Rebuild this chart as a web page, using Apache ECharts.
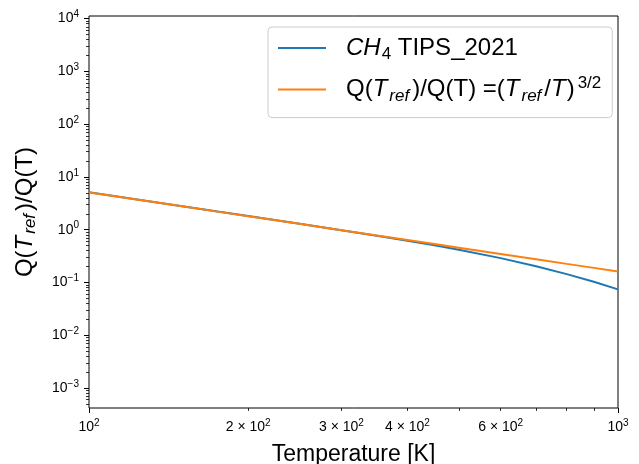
<!DOCTYPE html>
<html>
<head>
<meta charset="utf-8">
<script src="https://cdn.jsdelivr.net/npm/echarts@6/dist/echarts.min.js"></script>
<style>
html, body { margin: 0; padding: 0; background: #fff; }
#chart { width: 639px; height: 464px; }
</style>
</head>
<body>
<div id="chart"></div>
<script>
// temperature grid [K]
var temps = [100, 125, 150, 175, 200, 250, 300, 350, 400, 450, 500, 600, 700, 800, 900, 1000];
// CH4 TIPS_2021 : Q(Tref)/Q(T)
var tipsRatio = [5.12, 3.67, 2.79, 2.21, 1.81, 1.29, 0.976, 0.769, 0.618, 0.505, 0.416, 0.289, 0.203, 0.144, 0.103, 0.074];
// (Tref/T)^(3/2)
var powRatio = [5.09, 3.64, 2.77, 2.20, 1.80, 1.29, 0.980, 0.778, 0.637, 0.534, 0.456, 0.347, 0.275, 0.225, 0.189, 0.161];

// ticks
var xMajor = [100, 1000];
var xMinor = [200, 300, 400, 500, 600, 700, 800, 900];
var xMinorLabels = [200, 300, 400, 600];
var yMajor = [1e-3, 1e-2, 1e-1, 1, 10, 100, 1000, 10000];
var yMinorMant = [2, 3, 4, 5, 6, 7, 8, 9];
var yDecades = [-4, -3, -2, -1, 0, 1, 2, 3];

var yMin = 4.18e-4, yMax = 1.12e4;
var FONT = 'Liberation Sans';

var yMinor = [];
yDecades.forEach(function (d) {
    yMinorMant.forEach(function (m) {
        var v = m * Math.pow(10, d);
        if (v > yMin && v < yMax) yMinor.push(v);
    });
});

var seriesNames = ['CH4 TIPS_2021', 'Q(Tref)/Q(T) =(Tref/T)^3/2'];
var legendRich = {};
legendRich[seriesNames[0]] = '{gap| }{i|CH}{sb|4} TIPS_2021';
legendRich[seriesNames[1]] = '{gap| }Q({i|T}{si|ref})/Q(T) =({i|T}{si|ref}/{i|T}){sp|3/2}';

function sup(e) {
    return String(e).replace('-', '\u2212');
}
function xLabel(v) {
    var e = Math.floor(Math.log10(v) + 1e-9);
    var m = Math.round(v / Math.pow(10, e));
    if (m === 1) return '10{sup|' + sup(e) + '}';
    return m + ' \u00d7 10{sup|' + sup(e) + '}';
}
function yLabel(v) {
    var e = Math.round(Math.log10(v));
    return '10{sup|' + sup(e) + '}';
}

var tickRich = {
    sup: { fontSize: 10, lineHeight: 10, verticalAlign: 'top', fontFamily: FONT, color: '#000' }
};
var nameRich = {
    i: { fontStyle: 'italic', fontSize: 24, padding: [0, 1, 0, 0], fontFamily: FONT, color: '#000' },
    si: { fontStyle: 'italic', fontSize: 17, lineHeight: 17, verticalAlign: 'bottom', padding: [0, 3, 0, 1], fontFamily: FONT, color: '#000' }
};

var myChart = echarts.init(document.getElementById('chart'));

var option = {
    animation: false,
    grid: {
        left: 89, right: 21, top: 16, bottom: 56,
        outerBoundsMode: 'none',
        show: true, borderColor: '#000', borderWidth: 1, backgroundColor: 'transparent'
    },
    legend: {
        orient: 'vertical',
        left: 268, top: 27,
        padding: [6, 11, 13, 10],
        itemWidth: 48, itemHeight: 2, itemGap: 11.6,
        icon: 'rect',
        borderColor: '#cccccc', borderWidth: 1, borderRadius: 4,
        backgroundColor: 'rgba(255,255,255,0.8)',
        data: seriesNames,
        formatter: function (name) { return legendRich[name]; },
        textStyle: {
            fontFamily: FONT, fontSize: 24, lineHeight: 30, color: '#000',
            rich: {
                gap: { width: 15 },
                i: { fontStyle: 'italic', fontSize: 24, lineHeight: 30, padding: [0, 1, 0, 0], fontFamily: FONT, color: '#000' },
                si: { fontStyle: 'italic', fontSize: 17, lineHeight: 17, verticalAlign: 'bottom', padding: [0, 3, 0, 1], fontFamily: FONT, color: '#000' },
                sb: { fontSize: 17, lineHeight: 17, verticalAlign: 'bottom', fontFamily: FONT, color: '#000' },
                sp: { fontSize: 17, lineHeight: 17, verticalAlign: 'top', padding: [0, 0, 0, 3], fontFamily: FONT, color: '#000' }
            }
        }
    },
    xAxis: [{
        type: 'log', logBase: 10, min: 100, max: 1000, position: 'bottom',
        name: 'Temperature [K]', nameLocation: 'middle', nameGap: 28,
        nameTextStyle: { fontFamily: FONT, fontSize: 23, lineHeight: 28, color: '#000' },
        axisLine: { show: false },
        axisTick: { show: true, customValues: xMajor, length: 5, lineStyle: { color: '#000', width: 1 } },
        axisLabel: {
            customValues: xMajor, formatter: xLabel, margin: 10,
            fontFamily: FONT, fontSize: 14, lineHeight: 18, color: '#000', rich: tickRich
        },
        splitLine: { show: false }
    }, {
        type: 'log', logBase: 10, min: 100, max: 1000, position: 'bottom',
        axisLine: { show: false },
        axisTick: { show: true, customValues: xMinor, length: 3, lineStyle: { color: '#000', width: 0.8 } },
        axisLabel: {
            customValues: xMinorLabels, formatter: xLabel, margin: 10,
            fontFamily: FONT, fontSize: 14, lineHeight: 18, color: '#000', rich: tickRich
        },
        splitLine: { show: false }
    }],
    yAxis: [{
        type: 'log', logBase: 10, min: yMin, max: yMax, position: 'left',
        name: 'Q({i|T}{si|ref})/Q(T)', nameLocation: 'middle', nameRotate: 90, nameGap: 50,
        nameTextStyle: { fontFamily: FONT, fontSize: 24, lineHeight: 28, color: '#000', rich: nameRich },
        axisLine: { show: false },
        axisTick: { show: true, customValues: yMajor, length: 5, lineStyle: { color: '#000', width: 1 } },
        axisLabel: {
            customValues: yMajor, formatter: yLabel, margin: 10,
            fontFamily: FONT, fontSize: 14, lineHeight: 18, color: '#000', rich: tickRich
        },
        splitLine: { show: false }
    }, {
        type: 'log', logBase: 10, min: yMin, max: yMax, position: 'left',
        axisLine: { show: false },
        axisTick: { show: true, customValues: yMinor, length: 3, lineStyle: { color: '#000', width: 0.8 } },
        axisLabel: { show: false },
        splitLine: { show: false }
    }],
    series: [{
        name: seriesNames[0],
        type: 'line', xAxisIndex: 0, yAxisIndex: 0,
        data: temps.map(function (t, i) { return [t, tipsRatio[i]]; }),
        symbol: 'none', showSymbol: false,
        lineStyle: { color: '#1f77b4', width: 2 },
        itemStyle: { color: '#1f77b4' }
    }, {
        name: seriesNames[1],
        type: 'line', xAxisIndex: 0, yAxisIndex: 0,
        data: temps.map(function (t, i) { return [t, powRatio[i]]; }),
        symbol: 'none', showSymbol: false,
        lineStyle: { color: '#ff7f0e', width: 2 },
        itemStyle: { color: '#ff7f0e' }
    }]
};

myChart.setOption(option);
</script>
</body>
</html>
